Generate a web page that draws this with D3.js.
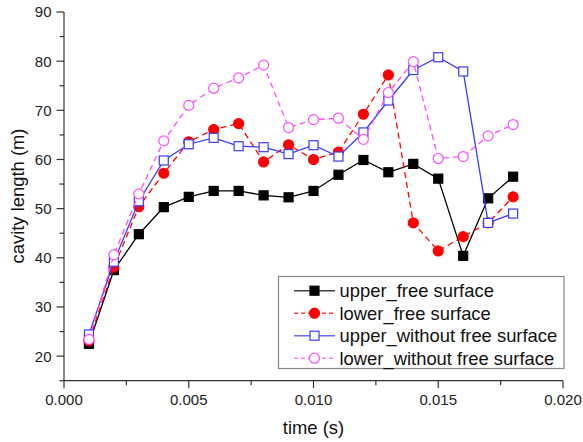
<!DOCTYPE html>
<html lang="en">
<head>
<meta charset="utf-8">
<title>cavity length</title>
<script src="https://d3js.org/d3.v7.min.js"></script>
<style>
  body { margin: 0; background: #fff; }
  svg { display: block; font-family: "Liberation Sans", Arial, sans-serif; }
</style>
</head>
<body>
<svg id="chart" width="583" height="442"></svg>
<script>
// data
var times = [0.001, 0.002, 0.003, 0.004, 0.005, 0.006, 0.007, 0.008, 0.009,
             0.010, 0.011, 0.012, 0.013, 0.014, 0.015, 0.016, 0.017, 0.018]
var upperFree    = [22.5, 37.5, 44.8, 50.3, 52.4, 53.6, 53.6, 52.7, 52.3, 53.6, 56.9, 59.9, 57.4, 59.1, 56.1, 40.4, 52.1, 56.5]
var lowerFree    = [23.1, 38.1, 50.4, 57.2, 63.6, 66.1, 67.3, 59.5, 63.0, 60.0, 61.5, 69.2, 77.2, 47.1, 41.4, 44.3, 47.1, 52.4]
var upperWithout = [24.4, 39.2, 51.5, 59.8, 63.1, 64.4, 62.7, 62.5, 61.1, 62.9, 60.6, 65.5, 72.0, 78.2, 80.8, 77.9, 47.1, 49.0]
var lowerWithout = [23.4, 40.6, 53.0, 63.8, 71.0, 74.5, 76.6, 79.2, 66.5, 68.1, 68.4, 64.1, 73.6, 79.9, 60.2, 60.6, 64.8, 67.1]
var seriesNames  = ["upper_free surface", "lower_free surface", "upper_without free surface", "lower_without free surface"]
var xTicks = [0, 0.005, 0.010, 0.015, 0.020]
var yTicks = [20, 30, 40, 50, 60, 70, 80, 90]

var series = [
  {name: seriesNames[0], values: upperFree,    color: "#000000", dash: null,  marker: "square", filled: true},
  {name: seriesNames[1], values: lowerFree,    color: "#ff0000", dash: "6,4", marker: "circle", filled: true},
  {name: seriesNames[2], values: upperWithout, color: "#3b3bff", dash: null,  marker: "square", filled: false},
  {name: seriesNames[3], values: lowerWithout, color: "#ff4dff", dash: "6,4", marker: "circle", filled: false}
]

var svg = d3.select("#chart")
var axisColor = "#333"

var x = d3.scaleLinear().domain([0, 0.020]).range([64, 563])
var y = d3.scaleLinear().domain([15, 90]).range([380.7, 12])

// axes
var xAxis = svg.append("g").attr("transform", "translate(0,380.7)")
xAxis.append("line").attr("x1", 64).attr("x2", 563).attr("stroke", axisColor).attr("stroke-width", 1.2)
xAxis.selectAll(".minor").data([0.0025, 0.0075, 0.0125, 0.0175]).join("line")
  .attr("x1", d => x(d)).attr("x2", d => x(d)).attr("y1", 0).attr("y2", 4.5)
  .attr("stroke", axisColor).attr("stroke-width", 1.2)
xAxis.selectAll(".major").data(xTicks).join("line")
  .attr("x1", d => x(d)).attr("x2", d => x(d)).attr("y1", 0).attr("y2", 7.5)
  .attr("stroke", axisColor).attr("stroke-width", 1.2)
xAxis.selectAll("text").data(xTicks).join("text")
  .attr("x", d => x(d)).attr("y", 24.5)
  .attr("text-anchor", "middle").attr("font-size", 15).attr("fill", "#222")
  .text(d => d3.format(".3f")(d))

var yAxis = svg.append("g")
yAxis.append("line").attr("x1", 64).attr("x2", 64).attr("y1", y(15)).attr("y2", y(90))
  .attr("stroke", axisColor).attr("stroke-width", 1.2)
yAxis.selectAll(".minor").data([15, 25, 35, 45, 55, 65, 75, 85]).join("line")
  .attr("x1", 59.5).attr("x2", 64).attr("y1", d => y(d)).attr("y2", d => y(d))
  .attr("stroke", axisColor).attr("stroke-width", 1.2)
yAxis.selectAll(".major").data(yTicks).join("line")
  .attr("x1", 56.5).attr("x2", 64).attr("y1", d => y(d)).attr("y2", d => y(d))
  .attr("stroke", axisColor).attr("stroke-width", 1.2)
yAxis.selectAll("text").data(yTicks).join("text")
  .attr("x", 51.5).attr("y", d => y(d)).attr("dy", "0.36em")
  .attr("text-anchor", "end").attr("font-size", 15).attr("fill", "#222")
  .text(d => d)

// axis titles
svg.append("text").attr("x", 313.5).attr("y", 434)
  .attr("text-anchor", "middle").attr("font-size", 18.4).attr("fill", "#111")
  .text("time (s)")
svg.append("text").attr("transform", "translate(24,196) rotate(-90)")
  .attr("text-anchor", "middle").attr("font-size", 18.4).attr("fill", "#111")
  .text("cavity length (m)")

var line = d3.line().x((d, i) => x(times[i])).y(d => y(d))

function drawMarker(g, s, cx, cy) {
  if (s.marker == "square") {
    g.append("rect").attr("x", cx - 4.5).attr("y", cy - 4.5).attr("width", 9).attr("height", 9)
      .attr("fill", s.filled ? s.color : "#fff").attr("stroke", s.color).attr("stroke-width", 1.2)
  } else {
    g.append("circle").attr("cx", cx).attr("cy", cy).attr("r", s.filled ? 5 : 5)
      .attr("fill", s.filled ? s.color : "#fff").attr("stroke", s.color).attr("stroke-width", 1.2)
  }
}

// lines + markers, drawn in series order
series.forEach(s => {
  var g = svg.append("g")
  g.append("path").attr("d", line(s.values))
    .attr("fill", "none").attr("stroke", s.color).attr("stroke-width", 1.3)
    .attr("stroke-dasharray", s.dash)
  s.values.forEach((v, i) => drawMarker(g, s, x(times[i]), y(v)))
})

// legend
var leg = svg.append("g")
leg.append("rect").attr("x", 278.5).attr("y", 276.5).attr("width", 285.5).attr("height", 92)
  .attr("fill", "#fff").attr("stroke", "#888").attr("stroke-width", 1.2)
series.forEach((s, i) => {
  var ly = 290.7 + i * 22.5
  leg.append("line").attr("x1", 294).attr("x2", 335).attr("y1", ly).attr("y2", ly)
    .attr("stroke", s.color).attr("stroke-width", 1.4).attr("stroke-dasharray", s.dash ? "4,3" : null)
    .attr("opacity", 0.75)
  drawMarker(leg, s, 314.5, ly)
  leg.append("text").attr("x", 339.5).attr("y", ly).attr("dy", "0.36em")
    .attr("font-size", 18.4).attr("fill", "#111").text(s.name)
})
</script>
</body>
</html>
